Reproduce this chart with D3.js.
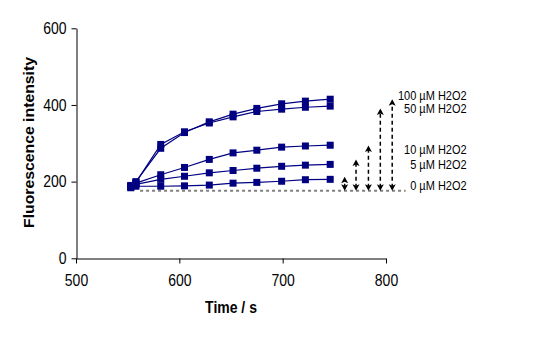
<!DOCTYPE html>
<html><head><meta charset="utf-8">
<script src="https://cdn.jsdelivr.net/npm/d3@7"></script>
<style>
body{margin:0;background:#fff;}
text{font-family:"Liberation Sans",Arial,sans-serif;fill:#000;}
</style></head>
<body><svg id="c" width="537" height="360"></svg>
<script>
const times = [553, 558, 582, 605, 629, 652, 675, 699, 722, 746];
const s100 = [190, 200, 287, 328, 356, 376, 391, 403, 410, 415];
const s50  = [188, 198, 297, 330, 353, 369, 383, 389, 394, 397];
const s10  = [188, 196, 218, 237, 258, 275, 282, 290, 293, 295];
const s5   = [186, 193, 206, 214, 223, 229, 235, 240, 243, 245];
const s0   = [184, 188, 188, 189, 191, 196, 198, 201, 205, 206];
const seriesList = [s0, s5, s10, s50, s100];
const xTicks = [500, 600, 700, 800];
const yTicks = [0, 200, 400, 600];
const baselineValue = 176;
const baselineRange = [562, 819];
const arrowTimes = [760, 771, 783, 794.5, 806];
const arrowTops = [213, 258, 294, 391, 415];
const labels = ["100 µM H2O2", "50 µM H2O2", "10 µM H2O2", "5 µM H2O2", "0 µM H2O2"];
const labelValues = [426, 392, 285, 246, 189];
const labelTime = 878;

const svg = d3.select("#c");
const x = d3.scaleLinear().domain([500, 800]).range([76, 386]);
const y = d3.scaleLinear().domain([0, 600]).range([258.3, 28.3]);

// axes
const gx = svg.append("g").attr("transform", "translate(0,258.5)")
  .call(d3.axisBottom(x).tickValues(xTicks).tickSize(5).tickPadding(8).tickSizeOuter(0));
const gy = svg.append("g").attr("transform", "translate(76.5,0)")
  .call(d3.axisLeft(y).tickValues(yTicks).tickSize(5).tickPadding(5).tickSizeOuter(0));
[gx, gy].forEach(g => {
  g.select(".domain").attr("stroke", "#000");
  g.selectAll(".tick line").attr("stroke", "#000");
  g.selectAll(".tick text").attr("font-size", 14)
    .attr("font-family", "Liberation Sans, Arial, sans-serif").attr("fill", "#000")
    .attr("transform", "scale(1,1.18)");
});

// baseline dashed
svg.append("line")
  .attr("x1", x(baselineRange[0])).attr("x2", x(baselineRange[1]))
  .attr("y1", y(baselineValue)).attr("y2", y(baselineValue))
  .attr("stroke", "#808080").attr("stroke-width", 2).attr("stroke-dasharray", "3,3");

// arrows (double headed)
arrowTimes.forEach((t, i) => {
  const ax = x(t), yb = y(baselineValue), yt = y(arrowTops[i]);
  svg.append("line")
    .attr("x1", ax).attr("x2", ax).attr("y1", yb - 3).attr("y2", yt + 3)
    .attr("stroke", "#000").attr("stroke-width", 1.5).attr("stroke-dasharray", "4,3");
  svg.append("path")
    .attr("d", `M${ax},${yt} L${ax - 3.5},${yt + 6.5} L${ax},${yt + 5} L${ax + 3.5},${yt + 6.5} Z`)
    .attr("fill", "#000");
  svg.append("path")
    .attr("d", `M${ax},${yb} L${ax - 3.5},${yb - 6.5} L${ax},${yb - 5} L${ax + 3.5},${yb - 6.5} Z`)
    .attr("fill", "#000");
});

// series
const line = d3.line().x((d, i) => x(times[i])).y(d => y(d));
seriesList.forEach(s => {
  svg.append("path").datum(s).attr("d", line)
    .attr("fill", "none").attr("stroke", "#000080").attr("stroke-width", 1.2);
});
seriesList.forEach(s => {
  svg.selectAll(null).data(s).enter().append("rect")
    .attr("x", (d, i) => x(times[i]) - 3.5).attr("y", d => y(d) - 3.5)
    .attr("width", 7).attr("height", 7).attr("fill", "#000080");
});

// labels
labels.forEach((l, i) => {
  svg.append("text")
    .attr("transform", `translate(${x(labelTime)},${y(labelValues[i]) + 4.5}) scale(1,1.1)`)
    .attr("text-anchor", "end").attr("font-size", 11).text(l);
});

// axis titles
svg.append("text").attr("transform", "translate(231,313) scale(1,1.2)")
  .attr("text-anchor", "middle")
  .attr("font-size", 14).attr("font-weight", "bold").text("Time / s");
svg.append("text").attr("transform", "translate(34,142.5) rotate(-90)")
  .attr("text-anchor", "middle").attr("font-size", 14).attr("font-weight", "bold")
  .attr("textLength", 171).attr("lengthAdjust", "spacingAndGlyphs")
  .text("Fluorescence intensity");
</script></body></html>
